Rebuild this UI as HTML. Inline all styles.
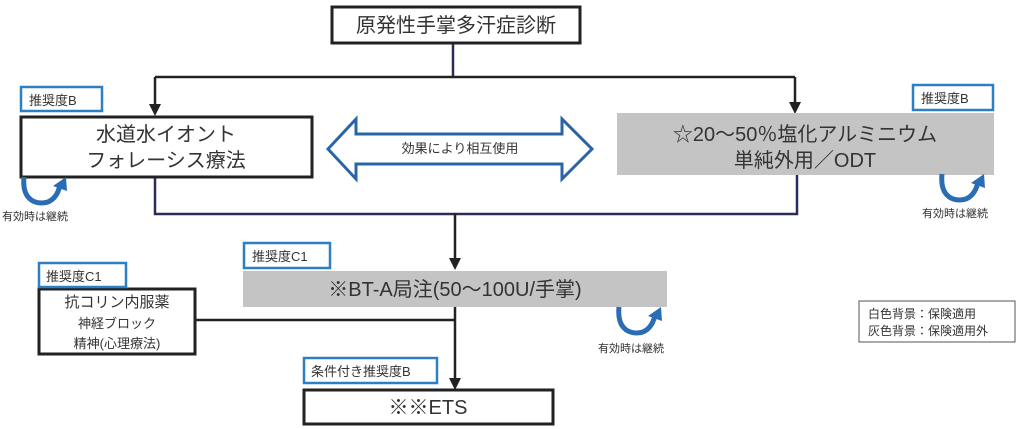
<!DOCTYPE html>
<html><head><meta charset="utf-8"><style>
html,body{margin:0;padding:0;background:#fff;width:1024px;height:429px;overflow:hidden}
svg{display:block}
text{font-family:"Liberation Sans","Noto Sans CJK JP",sans-serif;fill:#333}
</style></head><body>
<svg width="1024" height="429" viewBox="0 0 1024 429" xmlns="http://www.w3.org/2000/svg">
<defs>
<g id="loop">
<path d="M2,0 C0,20 10,26 20,26 C30,26 36,18 38,8" fill="none" stroke="#2a6db5" stroke-width="5"/>
<path d="M31,9 L44,0 L45,14 Z" fill="#2a6db5"/>
</g>
</defs>
<!-- connectors -->
<g stroke="#222" stroke-width="2.5" fill="none">
<path d="M453,43 V77" stroke="#2b2b5a"/>
<path d="M155,77 H795"/>
<path d="M155,77 V106"/>
<path d="M795,77 V104"/>
<path d="M155,177 V214 H797 V175" stroke="#2b2b5a"/>
<path d="M455,214 V260"/>
<path d="M455,307 V380"/>
<path d="M195,320 H455"/>
</g>
<g fill="#222">
<path d="M149,104 L161,104 L155,116 Z"/>
<path d="M789,102 L801,102 L795,114 Z"/>
<path d="M449,258 L461,258 L455,270 Z"/>
<path d="M449,378 L461,378 L455,390 Z"/>
</g>
<!-- top box -->
<rect x="332" y="7" width="248" height="36" fill="#fff" stroke="#222" stroke-width="3"/>
<text x="456" y="32" font-size="20" text-anchor="middle">原発性手掌多汗症診断</text>
<!-- left box -->
<rect x="21" y="117" width="291" height="60" fill="#fff" stroke="#222" stroke-width="3"/>
<text x="166" y="141" font-size="20" text-anchor="middle">水道水イオント</text>
<text x="166" y="167" font-size="20" text-anchor="middle">フォレーシス療法</text>
<rect x="21" y="87" width="81" height="24" fill="#fff" stroke="#2d7fc4" stroke-width="2.5"/>
<text x="29" y="105" font-size="13">推奨度B</text>
<!-- right box -->
<rect x="617" y="113" width="377" height="62" fill="#c4c4c4"/>
<text x="805" y="141" font-size="20" text-anchor="middle">☆20～50％塩化アルミニウム</text>
<text x="805" y="167" font-size="20" text-anchor="middle">単純外用／ODT</text>
<rect x="913" y="85" width="80" height="25" fill="#fff" stroke="#2d7fc4" stroke-width="2.5"/>
<text x="921" y="103" font-size="13">推奨度B</text>
<!-- double arrow -->
<path d="M328,149 L356,119 L356,134 L562,134 L562,119 L592,149 L562,179 L562,164 L356,164 L356,179 Z" fill="#fff" stroke="#2a64a8" stroke-width="3"/>
<text x="460" y="153" font-size="13" text-anchor="middle">効果により相互使用</text>
<!-- BT-A -->
<rect x="243" y="271" width="424" height="36" fill="#c4c4c4"/>
<text x="455" y="296" font-size="20" text-anchor="middle">※BT-A局注(50～100U/手掌)</text>
<rect x="244" y="243" width="86" height="25" fill="#fff" stroke="#2d7fc4" stroke-width="2.5"/>
<text x="252" y="261" font-size="13">推奨度C1</text>
<!-- left lower -->
<rect x="39" y="289" width="156" height="65" fill="#fff" stroke="#222" stroke-width="3"/>
<text x="117" y="307" font-size="15" text-anchor="middle">抗コリン内服薬</text>
<text x="117" y="328" font-size="13" text-anchor="middle">神経ブロック</text>
<text x="117" y="348" font-size="13" text-anchor="middle">精神(心理療法)</text>
<rect x="39" y="263" width="87" height="24" fill="#fff" stroke="#2d7fc4" stroke-width="2.5"/>
<text x="46" y="281" font-size="13">推奨度C1</text>
<!-- ETS -->
<rect x="304" y="390" width="249" height="34" fill="#fff" stroke="#222" stroke-width="3"/>
<text x="428" y="414" font-size="20" text-anchor="middle">※※ETS</text>
<rect x="304" y="358" width="133" height="25" fill="#fff" stroke="#2d7fc4" stroke-width="2.5"/>
<text x="311" y="376" font-size="13">条件付き推奨度B</text>
<!-- loops -->
<use href="#loop" x="22" y="177"/>
<text x="2" y="220" font-size="11">有効時は継続</text>
<use href="#loop" x="940" y="174"/>
<text x="922" y="217" font-size="11">有効時は継続</text>
<use href="#loop" x="617" y="307"/>
<text x="598" y="352" font-size="11">有効時は継続</text>
<!-- legend -->
<rect x="859" y="301" width="156" height="41" fill="#fff" stroke="#555" stroke-width="1"/>
<text x="868" y="318" font-size="12">白色背景：保険適用</text>
<text x="868" y="335" font-size="12">灰色背景：保険適用外</text>
</svg>
</body></html>
